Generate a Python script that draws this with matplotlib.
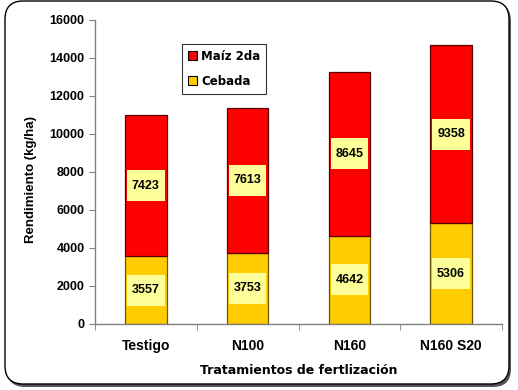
import matplotlib
matplotlib.use("Agg")
import matplotlib.pyplot as plt
from matplotlib.patches import FancyBboxPatch
import numpy as np

categories = ["Testigo", "N100", "N160", "N160 S20"]
cebada = [3557, 3753, 4642, 5306]
maiz = [7423, 7613, 8645, 9358]
yticks = [0, 2000, 4000, 6000, 8000, 10000, 12000, 14000, 16000]

plt.rcParams['font.family'] = ['Liberation Sans', 'DejaVu Sans']
WIDE = ['DejaVu Sans']

fig = plt.figure(figsize=(5.18, 3.9), dpi=100)

# rounded frame with shadow
shadow = FancyBboxPatch((7/518, 3/390), 504/518, 384/390,
                        boxstyle="round,pad=0,rounding_size=0.035",
                        transform=fig.transFigure, facecolor="#555555",
                        edgecolor="none", zorder=-2, mutation_aspect=518/390)
frame = FancyBboxPatch((5/518, 6/390), 504/518, 383/390,
                       boxstyle="round,pad=0,rounding_size=0.035",
                       transform=fig.transFigure, facecolor="white",
                       edgecolor="black", linewidth=1.0, zorder=-1,
                       mutation_aspect=518/390)
fig.patches.extend([shadow, frame])

ax = fig.add_axes([95/518, 66/390, 407/518, 304/390])
ax.set_facecolor("none")
ax.set_zorder(1)
x = np.arange(len(categories))
w = 0.41
ax.bar(x, cebada, w, color="#FFCC00", edgecolor="#6b5500", linewidth=0.9,
       label="Cebada", zorder=2)
ax.bar(x, maiz, w, bottom=cebada, color="#FF0000", edgecolor="#5a0000",
       linewidth=0.9, label="Maíz 2da", zorder=2)

# value label boxes
bh = 1630
bw = 0.37
mid_c = np.array(cebada) / 2
mid_m = np.array(cebada) + np.array(maiz) / 2
ax.bar(x, [bh] * len(x), bw, bottom=mid_c - bh / 2, color="#FFFF99", zorder=3)
ax.bar(x, [bh] * len(x), bw, bottom=mid_m - bh / 2, color="#FFFF99", zorder=3)
for xi, v, m in zip(x, cebada, mid_c):
    ax.text(xi, m, str(v), ha="center", va="center", fontsize=9,
            fontweight="bold", zorder=4)
for xi, v, m in zip(x, maiz, mid_m):
    ax.text(xi, m, str(v), ha="center", va="center", fontsize=9,
            fontweight="bold", zorder=4)

ax.set_xlim(-0.5, len(x) - 0.5)
ax.set_ylim(0, 16000)
ax.set_yticks(yticks)
ax.set_yticklabels([str(t) for t in yticks], fontsize=9, fontweight="bold")
ax.set_xticks(x)
ax.set_xticklabels(categories, fontsize=10, fontweight="bold")
ax.tick_params(axis="x", length=0, pad=11)
ax.set_xticks(np.arange(-0.5, len(x)), minor=True)
ax.tick_params(axis="x", which="minor", length=4, color="#808080", direction="out")
ax.tick_params(axis="y", length=4, color="#808080", direction="out")
for s in ["top", "right"]:
    ax.spines[s].set_visible(False)
for s in ["left", "bottom"]:
    ax.spines[s].set_color("#808080")
    ax.spines[s].set_linewidth(1.0)

ax.set_ylabel("Rendimiento (kg/ha)", fontsize=9.5, fontweight="bold")
ax.yaxis.set_label_coords(-0.142, 0.474)
ax.set_xlabel("Tratamientos de fertlización", fontsize=9, fontweight="bold",
              family=WIDE, labelpad=8)

h, l = ax.get_legend_handles_labels()
leg = ax.legend(h[::-1], l[::-1], loc="upper left", bbox_to_anchor=(0.214, 0.921),
                prop={"weight": "bold", "size": 8.5, "family": WIDE},
                frameon=True, fancybox=False, edgecolor="black",
                borderaxespad=0,
                handlelength=0.8, handleheight=0.8, handletextpad=0.3,
                borderpad=0.5, labelspacing=1.0)
leg.get_frame().set_linewidth(0.8)
for p in leg.get_patches():
    p.set_edgecolor("black")
    p.set_linewidth(0.8)

fig.savefig("out.png", dpi=100)
